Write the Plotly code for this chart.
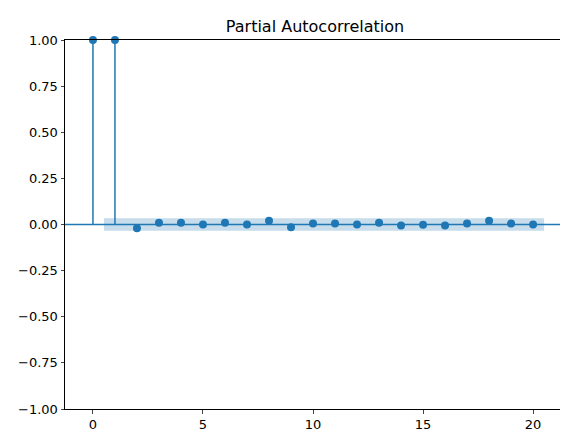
import plotly.graph_objects as go

lags = list(range(21))
pacf = [1.0, 1.0, -0.02, 0.01, 0.01, 0.0, 0.01, 0.0, 0.02, -0.015, 0.005,
        0.005, 0.0, 0.01, -0.005, -0.002, -0.005, 0.005, 0.02, 0.005, 0.0]
conf = 0.034
band_x = [0.5, 20.5]
yticks = [-1.0, -0.75, -0.5, -0.25, 0.0, 0.25, 0.5, 0.75, 1.0]
xticks = [0, 5, 10, 15, 20]

C = "#1f77b4"
fig = go.Figure()
fig.add_trace(go.Scatter(x=[band_x[0], band_x[1], band_x[1], band_x[0]],
                         y=[-conf, -conf, conf, conf], fill="toself",
                         fillcolor="rgba(31,119,180,0.25)", line=dict(width=0),
                         mode="lines", hoverinfo="skip"))
sx, sy = [], []
for l, v in zip(lags, pacf):
    sx += [l, l, None]
    sy += [0, v, None]
fig.add_trace(go.Scatter(x=sx, y=sy, mode="lines", line=dict(color=C, width=1.5)))
fig.add_trace(go.Scatter(x=lags, y=pacf, mode="markers",
                         marker=dict(color=C, size=8), cliponaxis=False))
fig.add_shape(type="line", xref="paper", x0=0, x1=1, y0=0, y1=0,
              line=dict(color=C, width=1.5))
fig.update_layout(
    width=568, height=435, showlegend=False, plot_bgcolor="white",
    paper_bgcolor="white", margin=dict(l=57, r=11, t=32, b=34, autoexpand=False),
    font=dict(family="DejaVu Sans", size=13, color="black"),
    title=dict(text="Partial Autocorrelation", x=0.5, xref="paper", xanchor="center",
               y=1 - 18 / 435, yanchor="middle", font=dict(size=16)),
)
fig.update_xaxes(range=[-1.27, 21.45], tickvals=xticks, showgrid=False,
                 zeroline=False, showline=True, mirror=True, linecolor="black",
                 ticks="outside", ticklen=3.5, automargin=False)
fig.update_yaxes(range=[-1, 1], tickvals=yticks, tickformat=".2f", showgrid=False,
                 zeroline=False, showline=True, mirror=True, linecolor="black",
                 ticks="outside", ticklen=3.5, automargin=False)
fig.write_html("out.html")
